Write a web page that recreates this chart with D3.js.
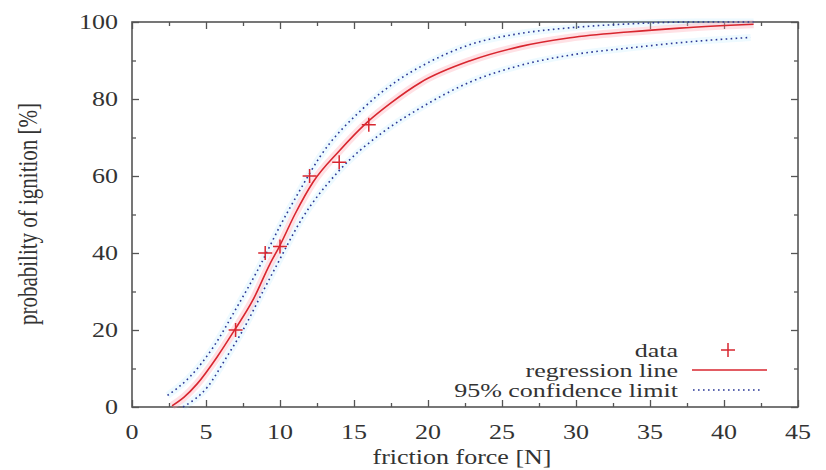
<!DOCTYPE html>
<html lang="en">
  <head>
    <meta charset="UTF-8" />
    <title>Probability of ignition vs friction force</title>
    <script src="https://d3js.org/d3.v7.min.js"></script>
    <style>
      body { margin: 0; background: #fff; }
      text { font-family: "Liberation Serif", "DejaVu Serif", serif; fill: #333; }
    </style>
  </head>
  <body>
    <svg id="chart" width="826" height="470"></svg>

    <script>
      // measured data (friction force [N], probability [%])
      const dataX = [7, 9, 10, 12, 14, 16];
      const dataY = [20, 40, 41.7, 60, 63.6, 73.3];

      // regression line
      const regX = [2.7, 3.5, 4.4, 5.75, 6.85, 8.2, 9.3, 10, 11, 12.25, 14, 15.9, 17.5, 19.5, 22.9, 26.2, 29.6, 33.5, 37, 42];
      const regY = [0.3, 2.5, 6, 13, 19.5, 28, 37, 42, 50, 58.5, 66.5, 74, 79, 84.3, 90, 93.6, 95.9, 97.4, 98.4, 99.4];

      // 95% confidence limits
      const upX = [2.4, 3.9, 5.5, 7.1, 8.5, 10, 11.3, 12.7, 15.6, 18.1, 19.5, 22.9, 26.2, 29.6, 33, 38, 42];
      const upY = [3, 7.8, 15.6, 26, 35.6, 47, 56, 65, 77.5, 85.2, 88.4, 94.2, 97, 98.5, 99.4, 100, 100];
      const loX = [3.45, 5.1, 6.4, 7.5, 8.9, 9.8, 11.5, 13.9, 17, 19.5, 22.9, 26.2, 29.6, 33.7, 37.5, 41.8];
      const loY = [0, 5.2, 13, 20, 30.4, 37, 49, 61, 71.5, 77.7, 84.5, 88.7, 91.4, 93.3, 94.8, 96];

      const xTicks = [0, 5, 10, 15, 20, 25, 30, 35, 40, 45];
      const yTicks = [0, 20, 40, 60, 80, 100];
      const legendLabels = ["data", "regression line", "95% confidence limit"];

      const svg = d3.select("#chart");
      const pLeft = 132, pRight = 798, pTop = 22, pBottom = 407;
      const stretch = "scale(1.3,1)";

      const x = d3.scaleLinear().domain([0, 45]).range([pLeft, pRight]);
      const y = d3.scaleLinear().domain([0, 100]).range([pBottom, pTop]);

      const red = "#d8262f";
      const blue = "#2a3796";

      // ticks (inward, mirrored like gnuplot)
      const minorX = d3.range(2.5, 45, 5);
      const minorY = d3.range(10, 100, 20);
      const tickGroups = [
        [d3.axisBottom(x).tickValues(xTicks), `translate(0,${pBottom})`, 7],
        [d3.axisBottom(x).tickValues(minorX), `translate(0,${pBottom})`, 4],
        [d3.axisTop(x).tickValues(xTicks), `translate(0,${pTop})`, 7],
        [d3.axisTop(x).tickValues(minorX), `translate(0,${pTop})`, 4],
        [d3.axisLeft(y).tickValues(yTicks), `translate(${pLeft},0)`, 7],
        [d3.axisLeft(y).tickValues(minorY), `translate(${pLeft},0)`, 4],
        [d3.axisRight(y).tickValues(yTicks), `translate(${pRight},0)`, 7],
        [d3.axisRight(y).tickValues(minorY), `translate(${pRight},0)`, 4],
      ];
      tickGroups.forEach(([ax, tr, len]) => {
        const g = svg.append("g").attr("transform", tr)
          .call(ax.tickSize(-len).tickSizeOuter(0).tickFormat(""));
        g.select(".domain").remove();
        g.selectAll("line").attr("stroke", "#555").attr("stroke-width", 1.3);
      });

      // tick labels
      svg.append("g").selectAll("text").data(xTicks).join("text")
        .attr("transform", (d) => `translate(${x(d)},${pBottom + 25}) ${stretch}`)
        .attr("text-anchor", "middle")
        .attr("dy", "0.35em")
        .style("font-size", "20px")
        .text((d) => d);

      svg.append("g").selectAll("text").data(yTicks).join("text")
        .attr("transform", (d) => `translate(${pLeft - 14},${y(d)}) ${stretch}`)
        .attr("text-anchor", "end")
        .attr("dy", "0.35em")
        .style("font-size", "20px")
        .text((d) => d);

      // frame
      svg.append("rect")
        .attr("x", pLeft).attr("y", pTop)
        .attr("width", pRight - pLeft).attr("height", pBottom - pTop)
        .attr("fill", "none").attr("stroke", "#555").attr("stroke-width", 1.6);

      // axis titles
      svg.append("text")
        .attr("transform", `translate(${(pLeft + pRight) / 2 - 3},${pBottom + 50}) ${stretch}`)
        .attr("text-anchor", "middle")
        .attr("dy", "0.35em")
        .style("font-size", "20px")
        .text("friction force [N]");

      svg.append("text")
        .attr("transform", `translate(27,214) ${stretch} rotate(-90)`)
        .attr("text-anchor", "middle")
        .attr("dy", "0.35em")
        .style("font-size", "21px")
        .text("probability of ignition [%]");

      const line = d3.line()
        .x((d) => x(d[0]))
        .y((d) => y(d[1]))
        .curve(d3.curveMonotoneX);

      const zip = (a, b) => a.map((v, i) => [v, b[i]]);
      const reg = zip(regX, regY);
      const up = zip(upX, upY);
      const lo = zip(loX, loY);

      const plot = svg.append("g");

      // soft halo like the blurry original
      [up, lo].forEach((pts) => {
        plot.append("path").attr("d", line(pts))
          .attr("fill", "none").attr("stroke", "#9fe4ff")
          .attr("stroke-width", 7).attr("opacity", 0.18);
      });
      plot.append("path").attr("d", line(reg))
        .attr("fill", "none").attr("stroke", "#ff9aa8")
        .attr("stroke-width", 8).attr("opacity", 0.3);

      [up, lo].forEach((pts) => {
        plot.append("path").attr("d", line(pts))
          .attr("fill", "none").attr("stroke", blue)
          .attr("stroke-width", 1.6)
          .attr("stroke-dasharray", "1.6,3.4");
      });

      plot.append("path").attr("d", line(reg))
        .attr("fill", "none").attr("stroke", red)
        .attr("stroke-width", 1.6);

      const drawPlus = (g, px, py) => {
        g.append("path")
          .attr("d", `M${px - 7},${py}H${px + 7}M${px},${py - 7}V${py + 7}`)
          .attr("stroke", red).attr("stroke-width", 1.5).attr("fill", "none");
      };
      zip(dataX, dataY).forEach(([dx, dy]) => drawPlus(plot, x(dx), y(dy)));

      // legend
      const legend = svg.append("g");
      const rowY = [350, 370, 390];
      legendLabels.forEach((label, i) => {
        legend.append("text")
          .attr("transform", `translate(678,${rowY[i]}) scale(1.37,1)`)
          .attr("text-anchor", "end")
          .attr("dy", "0.35em")
          .style("font-size", "19px")
          .text(label);
      });
      drawPlus(legend, 728, rowY[0]);
      legend.append("line")
        .attr("x1", 692).attr("x2", 767).attr("y1", rowY[1]).attr("y2", rowY[1])
        .attr("stroke", red).attr("stroke-width", 1.6);
      legend.append("line")
        .attr("x1", 693).attr("x2", 763).attr("y1", rowY[2]).attr("y2", rowY[2])
        .attr("stroke", blue).attr("stroke-width", 1.4)
        .attr("stroke-dasharray", "1.6,3.4");
    </script>
  </body>
</html>
